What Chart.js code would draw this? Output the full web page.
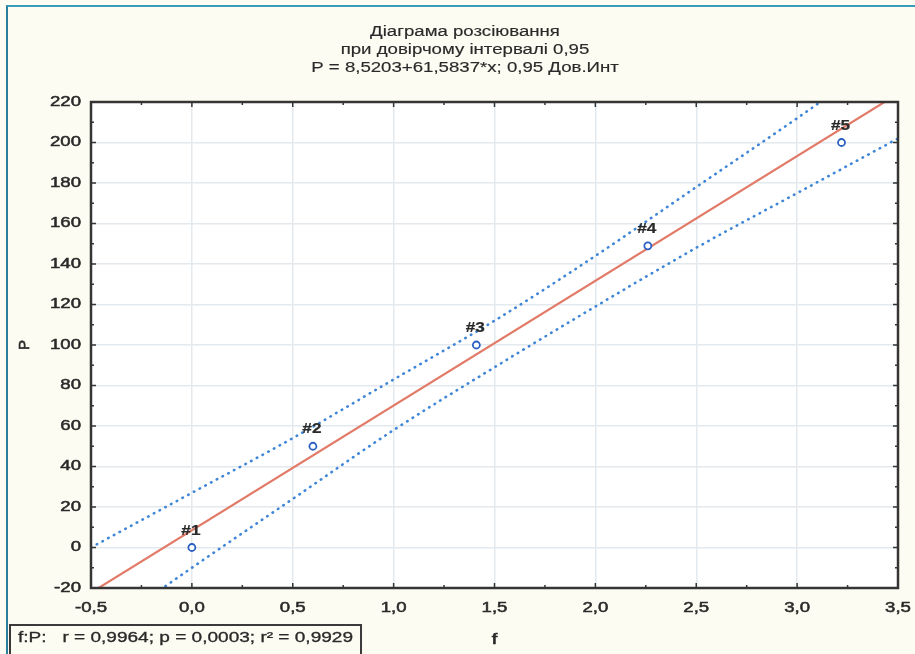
<!DOCTYPE html>
<html>
<head>
<meta charset="utf-8">
<script src="https://cdn.jsdelivr.net/npm/chart.js@4"></script>
<style>
  html, body { margin: 0; padding: 0; background: #fdfcf2; }
  #wrap { position: relative; width: 915px; height: 654px; overflow: hidden; }
  #edge { position: absolute; left: 6px; top: 5px; right: -2px; bottom: -2px;
          border-left: 2px solid #2b7f9c; border-top: 2px solid #3a9bbb; }
  canvas { position: absolute; left: 0; top: 0; }
</style>
</head>
<body>
<div id="wrap">
  <div id="edge"></div>
  <canvas id="chart" width="915" height="654"></canvas>
</div>
<script>
const pointLabels = ['#1', '#2', '#3', '#4', '#5'];
const fValues = [0.0, 0.6, 1.41, 2.26, 3.22];
const pValues = [0, 50, 100, 149, 200];

// fitted line and 0.95 confidence band
const lineF = [-0.5, 3.5];
const lineP = [-22.3, 224.1];
const bandF = [-0.5, 0.0, 0.5, 1.0, 1.5, 2.0, 2.5, 3.0, 3.5];
const bandUpper = [0, 27, 54, 83, 112, 144, 178, 212, 247];
const bandLower = [-45, -10, 24, 58, 89, 119, 148, 175, 202];

const xTicks = [-0.5, 0.0, 0.5, 1.0, 1.5, 2.0, 2.5, 3.0, 3.5];
const yTicks = [-20, 0, 20, 40, 60, 80, 100, 120, 140, 160, 180, 200, 220];

const titleLines = [
  'Діаграма розсіювання',
  'при довірчому інтервалі 0,95',
  'P = 8,5203+61,5837*x; 0,95 Дов.Инт'
];
const statsText = 'f:P:   r = 0,9964; p = 0,0003; r² = 0,9929';

const FONT = '"Liberation Sans", Arial, sans-serif';
const STRETCH = 1.33;
const TEXT_COLOR = '#2a2a2a';

function toXY(xs, ys) {
  return xs.map((x, i) => ({ x: x, y: ys[i] }));
}

// draw horizontally stretched text (the reference is a widened screenshot)
function wideText(ctx, text, x, y, align, font, sx, weight) {
  ctx.save();
  ctx.font = font;
  ctx.fillStyle = TEXT_COLOR;
  ctx.strokeStyle = TEXT_COLOR;
  ctx.lineWidth = weight || 0;
  ctx.textBaseline = 'middle';
  ctx.textAlign = 'left';
  const w = ctx.measureText(text).width * sx;
  let left = x;
  if (align === 'center') left = x - w / 2;
  else if (align === 'right') left = x - w;
  ctx.translate(left, y);
  ctx.scale(sx, 1);
  ctx.fillText(text, 0, 0);
  if (weight) ctx.strokeText(text, 0, 0);
  ctx.restore();
  return w;
}

const decorPlugin = {
  id: 'decor',
  beforeDraw(chart) {
    const { ctx, chartArea: a } = chart;
    ctx.save();
    ctx.fillStyle = '#ffffff';
    ctx.fillRect(a.left, a.top, a.right - a.left, a.bottom - a.top);
    ctx.restore();
  },
  afterDraw(chart) {
    const { ctx, chartArea: a } = chart;
    const xs = chart.scales.x, ys = chart.scales.y;

    // frame
    ctx.save();
    ctx.strokeStyle = '#353535';
    ctx.lineWidth = 2.5;
    ctx.strokeRect(a.left, a.top, a.right - a.left, a.bottom - a.top);

    // inner tick marks, major + minor
    ctx.lineWidth = 1.5;
    ctx.beginPath();
    xTicks.forEach((v, i) => {
      const px = xs.getPixelForValue(v);
      ctx.moveTo(px, a.bottom); ctx.lineTo(px, a.bottom - 5);
      ctx.moveTo(px, a.top); ctx.lineTo(px, a.top + 5);
      if (i < xTicks.length - 1) {
        const mx = xs.getPixelForValue((v + xTicks[i + 1]) / 2);
        ctx.moveTo(mx, a.bottom); ctx.lineTo(mx, a.bottom - 3);
        ctx.moveTo(mx, a.top); ctx.lineTo(mx, a.top + 3);
      }
    });
    yTicks.forEach((v, i) => {
      const py = ys.getPixelForValue(v);
      ctx.moveTo(a.left, py); ctx.lineTo(a.left + 5, py);
      ctx.moveTo(a.right, py); ctx.lineTo(a.right - 5, py);
      if (i < yTicks.length - 1) {
        const my = ys.getPixelForValue((v + yTicks[i + 1]) / 2);
        ctx.moveTo(a.left, my); ctx.lineTo(a.left + 3, my);
        ctx.moveTo(a.right, my); ctx.lineTo(a.right - 3, my);
      }
    });
    ctx.stroke();
    ctx.restore();

    const tickFont = '14px ' + FONT;
    xTicks.forEach(v => {
      wideText(ctx, v.toFixed(1).replace('.', ','), xs.getPixelForValue(v), a.bottom + 20, 'center', tickFont, STRETCH, 0.5);
    });
    yTicks.forEach(v => {
      wideText(ctx, String(v), a.left - 10, ys.getPixelForValue(v), 'right', tickFont, STRETCH, 0.5);
    });

    // titles
    const midX = 465;
    titleLines.forEach((t, i) => {
      wideText(ctx, t, midX, 32 + i * 18, 'center', '14px ' + FONT, STRETCH, 0.15);
    });
    wideText(ctx, 'f', (a.left + a.right) / 2, 640, 'center', '15px ' + FONT, STRETCH, 0.6);
    ctx.save();
    ctx.translate(25, (a.top + a.bottom) / 2);
    ctx.rotate(-Math.PI / 2);
    wideText(ctx, 'P', 0, 0, 'center', '15px ' + FONT, 1.0, 0.6);
    ctx.restore();

    // point labels
    const meta = chart.getDatasetMeta(0);
    meta.data.forEach((el, i) => {
      wideText(ctx, pointLabels[i], el.x - 1, el.y - 17, 'center', 'bold 15px ' + FONT, 1.15, 0.2);
    });

    // statistics box
    const w = wideText(ctx, statsText, 18, 638, 'left', '14px ' + FONT, 1.36, 0.3);
    ctx.save();
    ctx.strokeStyle = '#3a3a3a';
    ctx.lineWidth = 2;
    ctx.strokeRect(10, 625, w + 16, 40);
    ctx.restore();
  }
};

new Chart(document.getElementById('chart'), {
  type: 'scatter',
  data: {
    datasets: [
      {
        label: 'P',
        data: toXY(fValues, pValues),
        pointStyle: 'circle',
        pointRadius: 3.5,
        pointBorderWidth: 1.8,
        pointBorderColor: '#2a5fc4',
        pointBackgroundColor: '#ffffff',
        showLine: false,
        order: 0
      },
      {
        label: 'fit',
        data: toXY(lineF, lineP),
        showLine: true,
        borderColor: '#e27a68',
        borderWidth: 2.2,
        pointRadius: 0,
        order: 1
      },
      {
        label: 'upper',
        data: toXY(bandF, bandUpper),
        showLine: true,
        borderColor: '#3f86d6',
        borderWidth: 2.6,
        borderDash: [0.5, 6],
        borderCapStyle: 'round',
        cubicInterpolationMode: 'monotone',
        pointRadius: 0,
        order: 2
      },
      {
        label: 'lower',
        data: toXY(bandF, bandLower),
        showLine: true,
        borderColor: '#3f86d6',
        borderWidth: 2.6,
        borderDash: [0.5, 6],
        borderCapStyle: 'round',
        cubicInterpolationMode: 'monotone',
        pointRadius: 0,
        order: 2
      }
    ]
  },
  options: {
    responsive: false,
    animation: false,
    layout: { padding: { left: 0, top: 102, right: 17, bottom: 0 } },
    plugins: {
      legend: { display: false },
      title: { display: false },
      tooltip: { enabled: false }
    },
    scales: {
      x: {
        type: 'linear',
        min: -0.5,
        max: 3.5,
        ticks: { display: false, stepSize: 0.5 },
        grid: { color: '#e4e9ee', lineWidth: 1.5, drawTicks: false },
        border: { display: false },
        afterFit(scale) { scale.height = 66; }
      },
      y: {
        type: 'linear',
        min: -20,
        max: 220,
        ticks: { display: false, stepSize: 20 },
        grid: { color: '#e4e9ee', lineWidth: 1.5, drawTicks: false },
        border: { display: false },
        afterFit(scale) { scale.width = 91; }
      }
    }
  },
  plugins: [decorPlugin]
});
</script>
</body>
</html>
